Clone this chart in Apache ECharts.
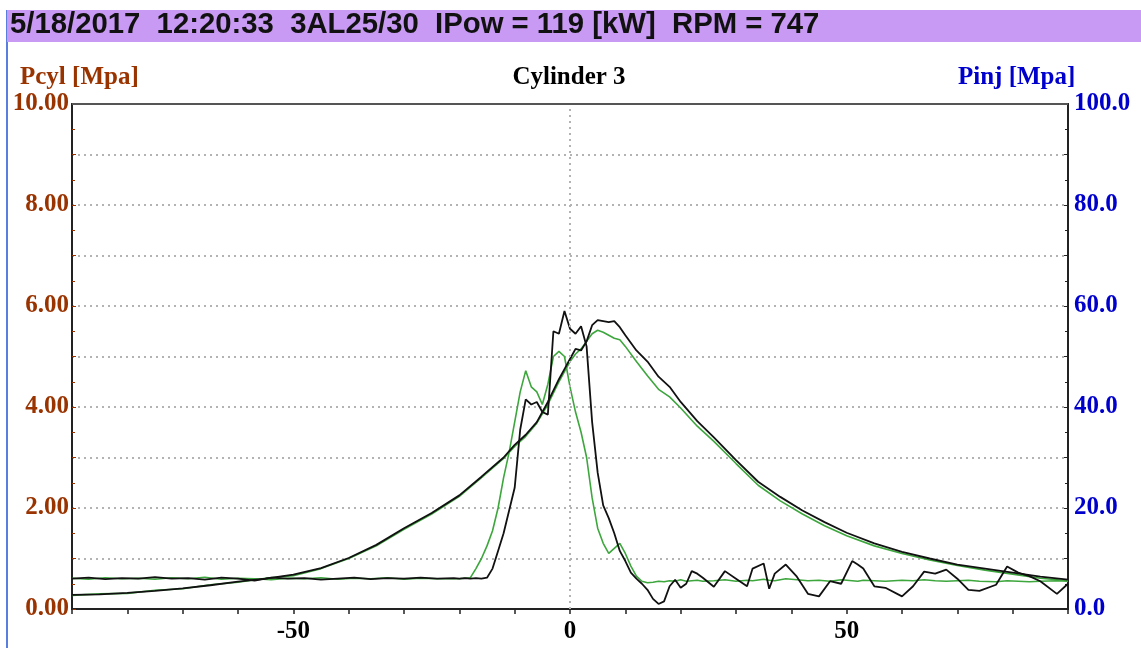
<!DOCTYPE html>
<html>
<head>
<meta charset="utf-8">
<script src="https://cdn.jsdelivr.net/npm/echarts@6/dist/echarts.min.js"></script>
<style>
html,body{margin:0;padding:0;background:#fff;}
#chart{width:1141px;height:648px;}
</style>
</head>
<body>
<div id="chart"></div>
<script>
// ---------- DATA ----------
var titleText = '5/18/2017  12:20:33  3AL25/30  IPow = 119 [kW]  RPM = 747';
var chartTitle = 'Cylinder 3';
var leftAxisName = 'Pcyl [Mpa]';
var rightAxisName = 'Pinj [Mpa]';
var xLabelValues = [-50, 0, 50];

// Crank angle [deg] for cylinder pressure curves
var cylAngles = [-90,-85,-80,-75,-70,-65,-60,-55,-50,-45,-40,-35,-30,-25,-20,-16,-12,-10,-8,-6,-4,-2,-1,0,1,2,3,4,5,6,7,8,9,10,12,14,16,18,20,23,26,30,34,38,42,46,50,55,60,65,70,75,80,85,90];
// Pcyl [MPa] - black trace
var blackCyl = [0.28,0.29,0.32,0.36,0.41,0.47,0.54,0.60,0.68,0.81,1.01,1.27,1.60,1.90,2.25,2.62,3.00,3.25,3.45,3.70,4.10,4.55,4.75,4.95,5.15,5.12,5.30,5.62,5.72,5.70,5.68,5.70,5.58,5.42,5.12,4.90,4.60,4.40,4.10,3.72,3.40,2.95,2.52,2.22,1.95,1.72,1.51,1.30,1.13,1.00,0.88,0.80,0.72,0.64,0.58];
// Pcyl [MPa] - green trace
var greenCyl = [0.27,0.30,0.31,0.37,0.40,0.48,0.53,0.61,0.66,0.80,1.00,1.25,1.58,1.88,2.23,2.60,2.98,3.22,3.42,3.68,4.05,4.50,4.70,4.90,5.05,5.15,5.30,5.45,5.52,5.48,5.42,5.36,5.33,5.20,4.90,4.62,4.35,4.20,3.98,3.62,3.32,2.88,2.45,2.14,1.88,1.65,1.45,1.25,1.10,0.97,0.86,0.77,0.69,0.61,0.56];

// Crank angle [deg] for injection pressure curves
var injAngles = [-90,-87,-84,-81,-78,-75,-72,-69,-66,-63,-60,-57,-54,-51,-48,-45,-42,-39,-36,-33,-30,-27,-24,-21,
  -20,-19,-18,-17,-16,-15,-14,-13,-12,-11,-10,-9,-8,-7,-6,-5,-4,-3,-2,-1,0,1,2,3,4,5,6,7,8,9,10,11,12,13,14,15,16,17,18,19,20,21,22,23,24,
  26,28,30,32,33,35,36,37,39,41,43,45,47,49,51,52,53,55,57,60,62,64,66,68,70,72,74,77,79,81,83,85,88,90];
// Pinj [MPa] - black trace
var blackInj = [6.0,6.2,5.9,6.1,6.0,6.3,6.0,6.1,5.8,6.2,6.0,5.6,6.2,6.0,6.1,5.8,6.0,6.2,5.9,6.1,6.0,6.2,6.0,6.1,
  6.0,6.1,6.0,6.1,6.0,6.2,8.0,11.5,15.0,19.5,24.0,35.5,41.5,40.5,41.0,39.0,38.5,55.0,54.5,59.0,55.5,54.5,56.0,52.0,37.0,27.0,20.5,18.0,15.0,11.5,9.5,7.2,6.0,5.0,3.8,2.0,1.0,1.5,4.5,5.8,4.2,5.0,7.5,7.0,6.2,
  4.4,7.5,6.0,4.5,8.0,9.0,4.0,7.0,8.8,6.4,3.0,2.5,5.5,5.0,9.5,8.8,8.0,4.5,4.2,2.5,4.5,7.4,7.0,7.8,6.0,3.8,3.6,4.8,8.4,7.2,6.5,5.5,3.0,5.0];
// Pinj [MPa] - green trace
var greenInj = [6.1,5.9,6.2,6.0,6.1,5.9,6.2,6.0,6.3,5.9,6.1,6.0,5.8,6.1,6.0,6.2,5.9,6.1,6.0,6.2,5.9,6.1,6.0,6.0,
  6.0,6.1,6.2,8.0,10.0,12.5,15.5,20.0,26.0,31.0,37.0,43.0,47.2,44.0,43.0,40.5,44.5,50.0,51.0,50.0,44.0,39.0,35.0,30.0,22.0,16.0,13.0,11.0,12.0,13.0,11.0,8.5,6.5,5.5,5.2,5.3,5.5,5.4,5.6,5.5,5.8,5.5,5.6,5.7,5.5,
  5.6,5.8,5.5,5.7,5.6,5.9,5.7,5.6,6.0,5.8,5.6,5.7,5.5,5.8,5.6,5.5,5.7,5.6,5.5,5.7,5.6,5.8,5.6,5.5,5.6,5.7,5.5,5.4,5.6,5.5,5.4,5.5,5.6,5.5];

function pairs(xs, ys){ return xs.map(function(x,i){ return [x, ys[i]]; }); }

// ---------- CHART ----------
var BROWN = '#993300', BLUE = '#0000cc', GREEN = '#3da63d', BLACK = '#111111';
var SERIF = "'Liberation Serif','Times New Roman',serif";
var chart = echarts.init(document.getElementById('chart'), null, {renderer:'canvas'});

var option = {
  animation: false,
  backgroundColor: '#ffffff',
  grid: { left: 72, right: 73, top: 104, bottom: 39, containLabel: false,
          show: true, borderColor: '#444', borderWidth: 2, backgroundColor: 'transparent' },
  graphic: [
    { type: 'line', shape: {x1: 7, y1: 10, x2: 7, y2: 648}, style: {stroke: '#5a7de0', lineWidth: 2} },
    { type: 'rect', shape: {x: 7, y: 10, width: 1134, height: 32}, style: {fill: '#c99af3'} },
    { type: 'text', left: 10, top: 10, style: {text: titleText, fill: '#111', font: "bold 29.3px 'Liberation Sans', Arial, sans-serif"} },
    { type: 'text', x: 20, y: 78, style: {text: leftAxisName, fill: BROWN, font: 'bold 25px ' + SERIF, textVerticalAlign: 'middle', textAlign: 'left'} },
    { type: 'text', x: 569, y: 78, style: {text: chartTitle, fill: '#000', font: 'bold 25px ' + SERIF, textVerticalAlign: 'middle', textAlign: 'center'} },
    { type: 'text', x: 958, y: 78, style: {text: rightAxisName, fill: BLUE, font: 'bold 25px ' + SERIF, textVerticalAlign: 'middle', textAlign: 'left'} },
    { type: 'line', z: 100, shape: {x1: 72, y1: 104, x2: 1068, y2: 104}, style: {stroke: '#555', lineWidth: 2} }
  ],
  xAxis: {
    type: 'value', min: -90, max: 90, interval: 10,
    axisLine: { show: true, onZero: false, lineStyle: {color: '#222', width: 2} },
    axisTick: { show: true, inside: false, length: 5, lineStyle: {color: '#222', width: 1.5} },
    axisLabel: {
      margin: 10, color: '#000', fontFamily: SERIF, fontWeight: 'bold', fontSize: 25,
      formatter: function(v){ return xLabelValues.indexOf(v) >= 0 ? String(v) : ''; }
    },
    splitLine: { show: false }
  },
  yAxis: [
    {
      type: 'value', min: 0, max: 10, interval: 1, position: 'left',
      axisLine: { show: true, onZero: false, lineStyle: {color: '#222', width: 2} },
      axisTick: { show: true, inside: true, length: 4, lineStyle: {color: BROWN} },
      minorTick: { show: true, splitNumber: 2, length: 3, lineStyle: {color: BROWN} },
      axisLabel: {
        margin: 3, color: BROWN, fontFamily: SERIF, fontWeight: 'bold', fontSize: 25,
        formatter: function(v){ return (Math.round(v) % 2 === 0) ? v.toFixed(2) : ''; }
      },
      splitLine: { show: true, lineStyle: {color: '#b3b3b3', width: 2, type: [2, 4]} }
    },
    {
      type: 'value', min: 0, max: 100, interval: 10, position: 'right',
      axisLine: { show: true, onZero: false, lineStyle: {color: '#222', width: 2} },
      axisTick: { show: true, inside: true, length: 4, lineStyle: {color: '#222'} },
      minorTick: { show: true, splitNumber: 2, length: 3, lineStyle: {color: '#222'} },
      axisLabel: {
        margin: 6, color: BLUE, fontFamily: SERIF, fontWeight: 'bold', fontSize: 25,
        formatter: function(v){ return (Math.round(v) % 20 === 0) ? v.toFixed(1) : ''; }
      },
      splitLine: { show: false }
    }
  ],
  series: [
    { name: 'Pcyl green', type: 'line', yAxisIndex: 0, showSymbol: false, data: pairs(cylAngles, greenCyl),
      lineStyle: {color: GREEN, width: 1.6}, itemStyle: {color: GREEN},
      markLine: { silent: true, symbol: 'none', label: {show: false},
                  lineStyle: {color: '#b3b3b3', width: 2, type: [2, 4]}, data: [{xAxis: 0}] } },
    { name: 'Pinj green', type: 'line', yAxisIndex: 1, showSymbol: false, data: pairs(injAngles, greenInj),
      lineStyle: {color: GREEN, width: 1.6}, itemStyle: {color: GREEN} },
    { name: 'Pcyl black', type: 'line', yAxisIndex: 0, showSymbol: false, data: pairs(cylAngles, blackCyl),
      lineStyle: {color: BLACK, width: 1.8}, itemStyle: {color: BLACK} },
    { name: 'Pinj black', type: 'line', yAxisIndex: 1, showSymbol: false, data: pairs(injAngles, blackInj),
      lineStyle: {color: BLACK, width: 1.8}, itemStyle: {color: BLACK} }
  ]
};
chart.setOption(option);
</script>
</body>
</html>
